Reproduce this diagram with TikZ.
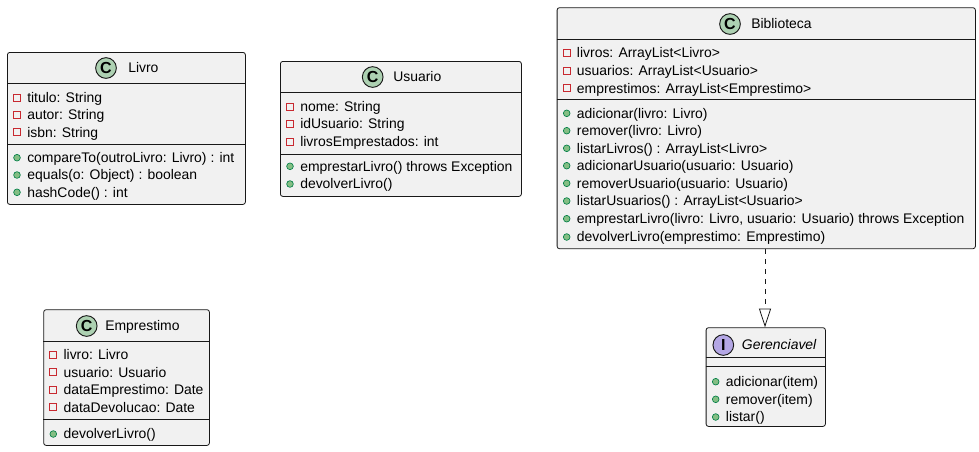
\documentclass[tikz,border=0pt]{standalone}
\usepackage{fontspec}
\setmainfont{Liberation Sans}
\usetikzlibrary{arrows.meta}
\definecolor{boxfill}{HTML}{F1F1F1}
\definecolor{boxline}{HTML}{181818}
\definecolor{cfill}{HTML}{ADD1B2}
\definecolor{ifill}{HTML}{B4A7E5}
\definecolor{privred}{HTML}{C82930}
\definecolor{pubfill}{HTML}{84BE84}
\definecolor{publine}{HTML}{038048}
\newcommand\umlfont{\fontsize{10.45}{12}\selectfont}
\newcommand\umlbox[5]{%
  \node[classbox, minimum width={(#4-#2)*0.75pt}, minimum height={(#5-#3)*0.75pt}, anchor=north west] (#1) at (#2,#3) {};}
\newcommand\umlsep[2]{\draw[sepline] (#1.west |- 0,#2) -- (#1.east |- 0,#2);}
\newcommand\privrow[4]{%
  \node[privicon] (#1i) at (#2+10,#3) {};
  \node[rowtext] (#1) at (#2+20,#3+4.8) {#4};}
\newcommand\pubrow[4]{%
  \node[pubicon] (#1i) at (#2+10,#3) {};
  \node[rowtext] (#1) at (#2+20,#3+4.8) {#4};}
\begin{document}
\begin{tikzpicture}[x=0.75pt,y=-0.75pt,
  classbox/.style={draw=boxline, fill=boxfill, rounded corners=1.8pt, line width=0.6pt, inner sep=0pt},
  sepline/.style={draw=boxline, line width=0.6pt},
  rowtext/.style={anchor=base west, inner sep=0pt, font=\umlfont, text=black},
  titletext/.style={anchor=base west, inner sep=0pt, font=\umlfont, text=black},
  privicon/.style={rectangle, draw=privred, line width=0.7pt, minimum size=5.4pt, inner sep=0pt},
  pubicon/.style={circle, draw=publine, fill=pubfill, line width=0.5pt, minimum size=5pt, inner sep=0pt},
  cicon/.style={circle, draw=boxline, line width=0.7pt, fill=cfill, minimum size=15.5pt, inner sep=0pt, font=\fontsize{12}{12}\selectfont\bfseries},
  iicon/.style={circle, draw=boxline, line width=0.7pt, fill=ifill, minimum size=15.5pt, inner sep=0pt, font=\fontsize{12}{12}\selectfont\bfseries},
  realize/.style={draw=boxline, line width=0.6pt, dash pattern=on 4pt off 3.5pt, -{Triangle[open, length=14pt, width=9pt, line width=0.6pt]}}
]
\useasboundingbox (0,0) rectangle (979,451);

% ---------- Livro ----------
\umlbox{livro}{7}{52}{245}{204}
\node[cicon] (livroC) at (106,68) {C};
\node[titletext] (livroT) at (128,72.8) {Livro};
\umlsep{livro}{83}
\privrow{livroA}{7}{97.7}{titulo: String}
\privrow{livroB}{7}{115}{autor: String}
\privrow{livroCc}{7}{132.3}{isbn: String}
\umlsep{livro}{144}
\pubrow{livroM}{7}{157.7}{compareTo(outroLivro: Livro) : int}
\pubrow{livroN}{7}{175}{equals(o: Object) : boolean}
\pubrow{livroO}{7}{192.3}{hashCode() : int}

% ---------- Usuario ----------
\umlbox{usuario}{280}{61}{521}{196}
\node[cicon] (usuarioC) at (372.7,77) {C};
\node[titletext] (usuarioT) at (393,81.8) {Usuario};
\umlsep{usuario}{92.7}
\privrow{usuarioA}{280}{106.7}{nome: String}
\privrow{usuarioB}{280}{124}{idUsuario: String}
\privrow{usuarioCc}{280}{141.7}{livrosEmprestados: int}
\umlsep{usuario}{154}
\pubrow{usuarioM}{280}{166.3}{emprestarLivro() throws Exception}
\pubrow{usuarioN}{280}{184}{devolverLivro()}

% ---------- Biblioteca ----------
\umlbox{biblio}{556.7}{7.3}{975}{248.3}
\node[cicon] (biblioC) at (730,24) {C};
\node[titletext] (biblioT) at (751,28.8) {Biblioteca};
\umlsep{biblio}{39.3}
\privrow{biblioA}{556.7}{53}{livros: ArrayList<Livro>}
\privrow{biblioB}{556.7}{70.7}{usuarios: ArrayList<Usuario>}
\privrow{biblioCc}{556.7}{88.3}{emprestimos: ArrayList<Emprestimo>}
\umlsep{biblio}{99.3}
\pubrow{biblioM1}{556.7}{113.3}{adicionar(livro: Livro)}
\pubrow{biblioM2}{556.7}{130.7}{remover(livro: Livro)}
\pubrow{biblioM3}{556.7}{148.3}{listarLivros() : ArrayList<Livro>}
\pubrow{biblioM4}{556.7}{165.7}{adicionarUsuario(usuario: Usuario)}
\pubrow{biblioM5}{556.7}{183.3}{removerUsuario(usuario: Usuario)}
\pubrow{biblioM6}{556.7}{201}{listarUsuarios() : ArrayList<Usuario>}
\pubrow{biblioM7}{556.7}{218.7}{emprestarLivro(livro: Livro, usuario: Usuario) throws Exception}
\pubrow{biblioM8}{556.7}{237}{devolverLivro(emprestimo: Emprestimo)}

% ---------- Emprestimo ----------
\umlbox{emprest}{43.3}{309.3}{209}{445}
\node[cicon] (emprestC) at (86.7,326) {C};
\node[titletext] (emprestT) at (105,330.8) {Emprestimo};
\umlsep{emprest}{341.7}
\privrow{emprestA}{43.3}{355}{livro: Livro}
\privrow{emprestB}{43.3}{372.3}{usuario: Usuario}
\privrow{emprestCc}{43.3}{390}{dataEmprestimo: Date}
\privrow{emprestD}{43.3}{407.3}{dataDevolucao: Date}
\umlsep{emprest}{419}
\pubrow{emprestM}{43.3}{434}{devolverLivro()}

% ---------- Gerenciavel ----------
\umlbox{gerenc}{705.7}{327.3}{825}{426}
\node[iicon] (gerencI) at (723.3,345) {I};
\node[titletext] (gerencT) at (741.7,349.8) {\itshape Gerenciavel};
\umlsep{gerenc}{357.3}
\umlsep{gerenc}{366}
\pubrow{gerencM1}{705.7}{381.7}{adicionar(item)}
\pubrow{gerencM2}{705.7}{399.3}{remover(item)}
\pubrow{gerencM3}{705.7}{417}{listar()}

% ---------- realization ----------
\coordinate (arrS) at (biblio.south -| 765,0);
\coordinate (arrE) at (gerenc.north -| 765,0);
\draw[realize] (arrS) -- (arrE);
\end{tikzpicture}
\end{document}
